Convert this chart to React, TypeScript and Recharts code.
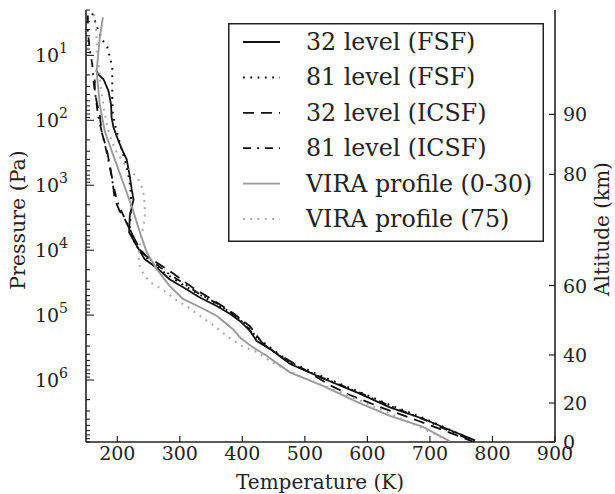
import React from 'react';
import { ScatterChart, Scatter, XAxis, YAxis, Legend } from 'recharts';

// temperature (K) / pressure (Pa)
const fsf32Temp = [166, 170, 178, 186, 190, 191, 194, 202, 210, 215, 220, 223, 226, 220, 219, 228, 234, 244, 263, 284, 306, 332, 359, 380, 396, 412, 423, 444, 476, 530, 583, 636, 690, 727, 772];
const fsf32Pres = [17, 19.6, 23.3, 35.5, 57, 91, 129, 209, 316, 398, 724, 1150, 1660, 2950, 5370, 7600, 9550, 13800, 18600, 28200, 37500, 53700, 72400, 95500, 123000, 174000, 251000, 331000, 562000, 955000, 1.55e6, 2.63e6, 3.98e6, 5.62e6, 8.5e6];

const fsf81Temp = [160, 168, 176, 184, 188, 192, 192, 192, 193, 198, 206, 214, 219, 222, 222, 220, 227, 236, 256, 281, 308, 336, 361, 384, 404, 420, 441, 476, 529, 584, 636, 689, 728, 769];
const fsf81Pres = [2.26, 3.7, 5.7, 7.5, 10.4, 15.3, 27.9, 47.5, 81, 137, 260, 475, 800, 1370, 2340, 4440, 7300, 10400, 16000, 24200, 35500, 51000, 70000, 94000, 133000, 204000, 300000, 530000, 890000, 1.48e6, 2.42e6, 3.82e6, 5.6e6, 8.5e6];

const icsf32Temp = [164, 164, 168, 172, 175, 183, 188, 192, 196, 204, 212, 220, 228, 236, 246, 260, 284, 321, 353, 385, 412, 432, 452, 503, 540, 572, 620, 680, 721, 768];
const icsf32Pres = [23.5, 37, 57, 81, 151, 280, 480, 800, 1660, 2520, 3330, 4790, 6800, 9600, 12300, 14800, 21000, 38000, 58500, 93000, 148000, 270000, 372000, 725000, 1.2e6, 1.7e6, 2.6e6, 4.2e6, 5.9e6, 8.8e6];

const icsf81Temp = [153, 153, 156, 160, 162, 166, 169, 175, 182, 188, 193, 200, 209, 219, 227, 238, 256, 281, 305, 332, 364, 396, 416, 436, 476, 529, 584, 636, 689, 728, 771];
const icsf81Pres = [2.43, 4.4, 8.1, 13.8, 25, 47.5, 81, 148, 280, 525, 955, 1770, 2820, 4440, 6800, 10400, 14800, 22600, 32000, 47500, 70000, 115000, 190000, 290000, 550000, 930000, 1.52e6, 2.5e6, 4e6, 5.9e6, 8.8e6];

const viraTemp = [177, 172, 167, 172, 180, 193, 209, 223, 236, 247, 263, 284, 305, 332, 360, 385, 398, 414, 440, 476, 530, 584, 636, 689, 732];
const viraPres = [2.6, 5.3, 17.5, 57, 148, 331, 890, 2090, 5250, 10700, 19500, 35700, 56400, 75000, 104000, 165000, 230000, 300000, 430000, 760000, 1.24e6, 2.18e6, 3.56e6, 5.25e6, 8.8e6];

const vira75Temp = [163, 166, 168, 171, 174, 179, 185, 196, 212, 232, 241, 244, 244, 238, 234, 236, 244, 257, 272, 292, 313, 335, 356, 377, 400, 424, 444, 492, 556, 620, 684, 724];
const vira75Pres = [2.34, 4, 8.7, 16.4, 33, 68, 138, 280, 480, 760, 1150, 1950, 3330, 6300, 11500, 17800, 25300, 33400, 39800, 56700, 75000, 108000, 148000, 218000, 300000, 372000, 510000, 880000, 1.53e6, 2.8e6, 5.3e6, 8.1e6];

const tempTicks = [200, 300, 400, 500, 600, 700, 800, 900];
const pressureMajor = [10, 100, 1000, 10000, 100000, 1000000];
const altitudeLabels = [0, 20, 40, 60, 80, 90];
const altitudePres = [9e6, 2.26e6, 4.1e5, 3.5e4, 680, 81];

const minorTicks: number[] = [];
for (let e = 0; e <= 6; e++) {
  for (let m = 2; m <= 9; m++) minorTicks.push(m * Math.pow(10, e));
}
const pressureTicks = [...pressureMajor, ...minorTicks].filter((v) => v >= 2 && v <= 9e6).sort((a, b) => a - b);

const zip = (t: number[], p: number[]) => t.map((v, i) => ({ t: v, p: p[i] }));

const FONT = 'DejaVu Serif';
const INK = '#222';

const series = [
  { name: '32 level (FSF)', data: zip(fsf32Temp, fsf32Pres), stroke: '#111', width: 1.8, dash: undefined as string | undefined },
  { name: '81 level (FSF)', data: zip(fsf81Temp, fsf81Pres), stroke: '#111', width: 2, dash: '1.8 5.5' },
  { name: '32 level (ICSF)', data: zip(icsf32Temp, icsf32Pres), stroke: '#111', width: 1.8, dash: '11 7' },
  { name: '81 level (ICSF)', data: zip(icsf81Temp, icsf81Pres), stroke: '#111', width: 1.8, dash: '8 6 2 6' },
  { name: 'VIRA profile (0-30)', data: zip(viraTemp, viraPres), stroke: '#999', width: 1.9, dash: undefined },
  { name: 'VIRA profile (75)', data: zip(vira75Temp, vira75Pres), stroke: '#a5a5a5', width: 2, dash: '1.8 5.5' },
];

const noShape = () => <g />;

const BottomTick = (props: any) => {
  const { x, y, payload } = props;
  return (
    <g>
      <line x1={x} y1={y} x2={x} y2={y - 6} stroke={INK} strokeWidth={1.2} />
      <text x={x} y={y + 18} textAnchor="middle" fontSize={19} fontFamily={FONT} fill={INK}>
        {payload.value}
      </text>
    </g>
  );
};

const TopTick = (props: any) => {
  const { x, y } = props;
  return <line x1={x} y1={y} x2={x} y2={y + 6} stroke={INK} strokeWidth={1.2} />;
};

const LeftTick = (props: any) => {
  const { x, y, payload } = props;
  const lg = Math.log10(payload.value);
  const major = Math.abs(lg - Math.round(lg)) < 1e-6;
  return (
    <g>
      <line x1={x} y1={y} x2={x + (major ? 8 : 4)} y2={y} stroke={INK} strokeWidth={1.1} />
      {major && (
        <text x={x - 18} y={y + 7} textAnchor="end" fontSize={19} fontFamily={FONT} fill={INK}>
          10
          <tspan dy={-9} fontSize={14}>
            {Math.round(lg)}
          </tspan>
        </text>
      )}
    </g>
  );
};

const RightTick = (props: any) => {
  const { x, y, index } = props;
  return (
    <g>
      <line x1={x} y1={y} x2={x - 6} y2={y} stroke={INK} strokeWidth={1.2} />
      <text x={x + 8} y={y + 7} textAnchor="start" fontSize={19} fontFamily={FONT} fill={INK}>
        {altitudeLabels[index]}
      </text>
    </g>
  );
};

const renderLegend = () => (
  <svg width={316} height={219} style={{ display: 'block' }}>
    <rect x={0.75} y={0.75} width={314.5} height={217.5} fill="#fff" stroke={INK} strokeWidth={1.5} />
    {series.map((s, i) => {
      const cy = 19 + i * 35.4;
      return (
        <g key={s.name}>
          <line x1={15} x2={52} y1={cy} y2={cy} stroke={s.stroke} strokeWidth={s.width} strokeDasharray={s.dash} />
          <text x={78} y={cy + 8} fontSize={23.7} fontFamily={FONT} fill={INK}>
            {s.name}
          </text>
        </g>
      );
    })}
  </svg>
);

export default function App() {
  return (
    <div style={{ position: 'absolute', left: 0, top: 0, fontFamily: FONT }}>
      <ScatterChart width={615} height={494} margin={{ top: 10, right: 20, bottom: 22, left: 26 }}>
        <XAxis
          xAxisId="bottom"
          dataKey="t"
          type="number"
          domain={[150, 900]}
          allowDataOverflow
          ticks={tempTicks}
          interval={0}
          height={30}
          tickSize={0}
          tickMargin={0}
          tickLine={false}
          tick={<BottomTick />}
          axisLine={{ stroke: INK, strokeWidth: 1.6 }}
        />
        <XAxis
          xAxisId="top"
          orientation="top"
          dataKey="t"
          type="number"
          domain={[150, 900]}
          allowDataOverflow
          ticks={tempTicks}
          interval={0}
          height={0}
          tickSize={0}
          tickMargin={0}
          tickLine={false}
          tick={<TopTick />}
          axisLine={{ stroke: INK, strokeWidth: 1.6 }}
        />
        <YAxis
          yAxisId="left"
          dataKey="p"
          type="number"
          scale="log"
          domain={[2, 9e6]}
          allowDataOverflow
          reversed
          ticks={pressureTicks}
          interval={0}
          width={60}
          tickSize={0}
          tickMargin={0}
          tickLine={false}
          tick={<LeftTick />}
          axisLine={{ stroke: INK, strokeWidth: 1.6 }}
        />
        <YAxis
          yAxisId="right"
          orientation="right"
          dataKey="p"
          type="number"
          scale="log"
          domain={[2, 9e6]}
          allowDataOverflow
          reversed
          ticks={altitudePres}
          interval={0}
          width={40}
          tickSize={0}
          tickMargin={0}
          tickLine={false}
          tick={<RightTick />}
          axisLine={{ stroke: INK, strokeWidth: 1.6 }}
        />
        {series.map((s) => (
          <Scatter
            key={s.name}
            name={s.name}
            data={s.data}
            xAxisId="bottom"
            yAxisId="left"
            fill={s.stroke}
            shape={noShape}
            line={{ stroke: s.stroke, strokeWidth: s.width, strokeDasharray: s.dash }}
            lineType="joint"
            isAnimationActive={false}
          />
        ))}
        <Scatter
          data={series[4].data}
          xAxisId="top"
          yAxisId="right"
          shape={noShape}
          legendType="none"
          isAnimationActive={false}
        />
        <Legend
          content={renderLegend}
          layout="horizontal"
          verticalAlign="middle"
          align="center"
          wrapperStyle={{ left: 228, top: 23, width: 316, height: 219 }}
        />
      </ScatterChart>
      <svg width={615} height={494} style={{ position: 'absolute', left: 0, top: 0, pointerEvents: 'none' }}>
        <text x={25} y={220} transform="rotate(-90 25 220)" textAnchor="middle" fontSize={20.5} fontFamily={FONT} fill={INK}>
          Pressure (Pa)
        </text>
        <text x={320} y={489} textAnchor="middle" fontSize={20} fontFamily={FONT} fill={INK}>
          Temperature (K)
        </text>
        <text x={609} y={229} transform="rotate(-90 609 229)" textAnchor="middle" fontSize={20} fontFamily={FONT} fill={INK}>
          Altitude (km)
        </text>
      </svg>
    </div>
  );
}
